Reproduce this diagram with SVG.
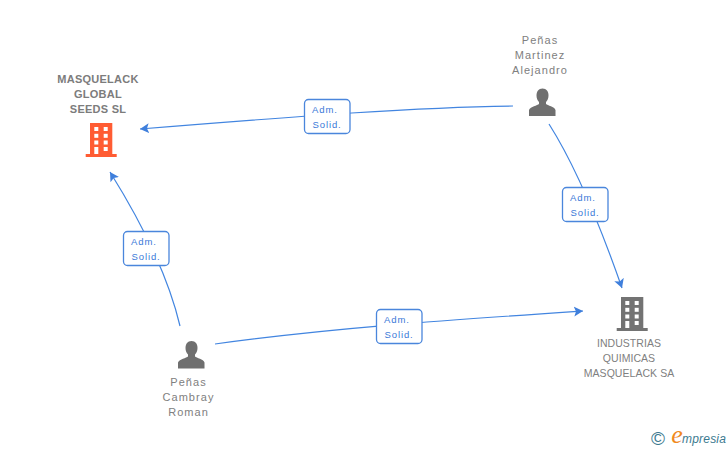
<svg xmlns="http://www.w3.org/2000/svg" width="728" height="450" viewBox="0 0 728 450">
<style>
.lbl{font-family:"Liberation Sans",Arial,sans-serif;font-size:11px;fill:#808080;text-anchor:middle;letter-spacing:1.05px}
.cap{font-size:10.5px;letter-spacing:.05px}
.b{font-weight:bold;fill:#7c7c7c;font-size:11px;letter-spacing:.25px}
.edge{fill:none;stroke:#4285e0;stroke-width:1.2}
.box{fill:#fff;stroke:#4a86dc;stroke-width:1.3}
.et{font-family:"Liberation Sans",Arial,sans-serif;font-size:9.5px;fill:#3a78d8;letter-spacing:.9px}
.w{fill:#fff}
</style>
<defs>
<marker id="ah" markerWidth="10" markerHeight="12" refX="9" refY="6" orient="auto" markerUnits="userSpaceOnUse"><path d="M0 1 L9 6 L0 11 L2 6 Z" fill="#3f7fdc"/></marker>
<g id="bld"><path d="M-11 -16H11.300V15H15.700V18H-15.300V15H-11Z"/><g class="w"><rect x="-6.700" y="-12" width="4" height="4"/><rect x="2.700" y="-12" width="4" height="4"/><rect x="-6.700" y="-5.200" width="4" height="4"/><rect x="2.700" y="-5.200" width="4" height="4"/><rect x="-6.700" y="1.500" width="4" height="4"/><rect x="2.700" y="1.500" width="4" height="4"/><rect x="-6.700" y="8" width="4" height="7"/><rect x="2.700" y="8" width="4" height="4"/></g></g>
<path id="psn" d="M0 -14C4 -14 6 -11 6 -7C6 -4 5 -2 3.500 -.5V1.500C5 3 12 4 13 7.500V13.500H-13.500V7.500C-12 4 -5 3 -3.500 1.500V-.5C-5 -2 -6 -4 -6 -7C-6 -11 -4 -14 0 -14Z" fill="#6f6f6f"/>
</defs>
<g id="connectors">
<path class="edge" marker-end="url(#ah)" d="M513 106C420 107 300 116 140 129"/>
<path class="edge" marker-end="url(#ah)" d="M549 124C575 165 600 225 622 288"/>
<path class="edge" marker-end="url(#ah)" d="M180 326C168 275 140 220 110 172"/>
<path class="edge" marker-end="url(#ah)" d="M215 344C330 328 450 320 583 311"/>
<g><rect class="box" x="304.500" y="99.500" width="45.500" height="34" rx="4"/><text class="et" x="312" y="113">Adm.</text><text class="et" x="312.500" y="128">Solid.</text></g>
<g><rect class="box" x="562.500" y="187.500" width="45.500" height="34" rx="4"/><text class="et" x="570" y="201">Adm.</text><text class="et" x="570.500" y="216">Solid.</text></g>
<g><rect class="box" x="123.500" y="231.500" width="45.500" height="34" rx="4"/><text class="et" x="131" y="245">Adm.</text><text class="et" x="131.500" y="260">Solid.</text></g>
<g><rect class="box" x="376.500" y="309.500" width="45.500" height="34" rx="4"/><text class="et" x="384" y="323">Adm.</text><text class="et" x="384.500" y="338">Solid.</text></g>
</g>
<g id="masquelack-global">
<text class="lbl b" x="98" y="83">MASQUELACK</text><text class="lbl b" x="98" y="98">GLOBAL</text><text class="lbl b" x="98" y="113">SEEDS SL</text>
<use href="#bld" x="101" y="139" fill="#ff5c33"/>
</g>
<g id="penas-martinez">
<text class="lbl" x="540" y="44">Peñas</text><text class="lbl" x="540" y="59">Martinez</text><text class="lbl" x="540" y="74">Alejandro</text>
<use href="#psn" x="542.500" y="102.500"/>
</g>
<g id="industrias">
<use href="#bld" x="632" y="313" fill="#737373"/>
<text class="lbl cap" x="629" y="347">INDUSTRIAS</text><text class="lbl cap" x="629" y="362">QUIMICAS</text><text class="lbl cap" x="629" y="377">MASQUELACK SA</text>
</g>
<g id="penas-cambray">
<use href="#psn" x="191.500" y="355"/>
<text class="lbl" x="188.500" y="386">Peñas</text><text class="lbl" x="188.500" y="401">Cambray</text><text class="lbl" x="188.500" y="416">Roman</text>
</g>
<g id="empresia">
<text x="658" y="445" font-family="'Liberation Sans',Arial,sans-serif" font-size="19" fill="#3c7a90" text-anchor="middle">©</text>
<text x="677" y="443" font-family="'Liberation Serif',serif" font-size="26" font-style="italic" fill="#f08a1e" text-anchor="middle">e</text>
<text x="682" y="443" font-family="'Liberation Sans',Arial,sans-serif" font-size="12" font-style="italic" fill="#3c7a90" letter-spacing=".2">mpresia</text>
</g>
</svg>
